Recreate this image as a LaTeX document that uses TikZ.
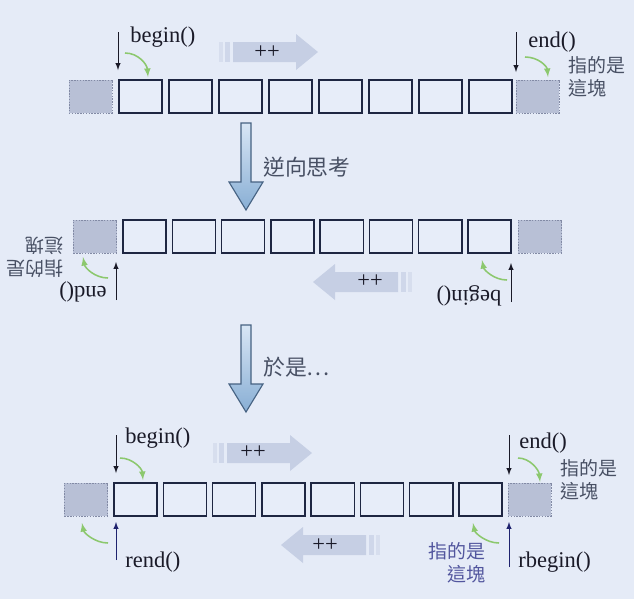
\documentclass[tikz,border=0pt]{standalone}
\usepackage{fontspec}
\setmainfont{Liberation Serif}
\newfontfamily\cjk{Noto Sans CJK TC}
\usetikzlibrary{calc}

\definecolor{bgblue}{RGB}{229,235,247}
\definecolor{cellfill}{RGB}{231,237,249}
\definecolor{boxline}{RGB}{30,38,66}
\definecolor{sentfill}{RGB}{184,192,214}
\definecolor{dotline}{RGB}{130,138,165}
\definecolor{fatfill}{RGB}{198,207,228}
\definecolor{downtop}{RGB}{216,230,245}
\definecolor{downbot}{RGB}{136,174,212}
\definecolor{downedge}{RGB}{70,98,130}
\definecolor{hintgreen}{RGB}{140,200,110}
\definecolor{navy}{RGB}{30,34,110}
\definecolor{ink}{RGB}{26,26,40}
\definecolor{notegrey}{RGB}{72,80,100}
\definecolor{noteblue}{RGB}{82,86,158}

\tikzset{
  cell/.style={draw=boxline, fill=cellfill, line width=1pt,
    minimum width=1.075cm, minimum height=0.825cm, inner sep=0pt},
  sentinel/.style={cell, draw=dotline, densely dotted, fill=sentfill, line width=0.6pt},
  ptr/.style={-latex, line width=0.7pt, draw=ink},
  rptr/.style={ptr, draw=navy},
  hint/.style={-latex, line width=1.1pt, draw=hintgreen},
  lbl/.style={font=\fontsize{16}{19}\selectfont, text=ink, inner sep=0pt},
  note/.style={font=\cjk\fontsize{13.5}{16.5}\selectfont, text=notegrey, inner sep=0pt},
  fat arrow/.pic={
    \fill[fatfill!45!bgblue] (0,-10) rectangle (4,10);
    \fill[fatfill!70!bgblue] (6,-10) rectangle (11,10);
    \fill[fatfill] (14,-10) -- (77,-10) -- (77,-18) -- (99,0) -- (77,18)
      -- (77,10) -- (14,10) -- cycle;
  },
  down arrow/.pic={
    \draw[draw=downedge, line width=0.8pt, top color=downtop, bottom color=downbot]
      (-5,0) -- (-5,59) -- (-17,59) -- (0,87) -- (17,59) -- (5,59) -- (5,0) -- cycle;
  }
}

\begin{document}
\begin{tikzpicture}[x=0.025cm, y=-0.025cm]
  \fill[bgblue] (0,0) rectangle (634,599);
  \useasboundingbox (0,0) rectangle (634,599);

  % first row
  \draw
    (90.5,96.5) node[sentinel] (t0){}
    (140.5,96.5) node[cell] (t1){}
    (190.5,96.5) node[cell] (t2){}
    (240.5,96.5) node[cell] (t3){}
    (290.5,96.5) node[cell] (t4){}
    (340.5,96.5) node[cell] (t5){}
    (390.5,96.5) node[cell] (t6){}
    (440.5,96.5) node[cell] (t7){}
    (490.5,96.5) node[cell] (t8){}
    (537.5,96.5) node[sentinel] (t9){};
  \coordinate (tb1) at (118,32);
  \coordinate (tb2) at (118,70);
  \coordinate (te1) at (516,32);
  \coordinate (te2) at (516,72);
  \coordinate (tg1) at (125,53);
  \coordinate (tg2) at (148,77);
  \coordinate (th1) at (525,57);
  \coordinate (th2) at (548,77);
  \node[lbl, anchor=base west] (tbegin) at (130,42) {begin()};
  \node[lbl, anchor=base west] (tend) at (528,47) {end()};
  \node[note, anchor=north west, align=left] (tnote) at (568,56) {指的是\\這塊};
  \draw[ptr] (tb1) -- (tb2);
  \draw[ptr] (te1) -- (te2);
  \draw[hint] (tg1) .. controls (138,53) and (147,64) .. (tg2);
  \draw[hint] (th1) .. controls (538,57) and (547,66) .. (th2);
  \pic at (219,52) {fat arrow};
  \node[lbl] (tinc) at (267,52) {++};

  % think backwards
  \pic at (246,123) {down arrow};
  \node[note, font=\cjk\fontsize{15.5}{18}\selectfont, anchor=west] (flip) at (263,167) {逆向思考};

  % second row
  \draw
    (95,236.5) node[sentinel] (m0){}
    (144.5,236.5) node[cell] (m1){}
    (193.8,236.5) node[cell] (m2){}
    (243.1,236.5) node[cell] (m3){}
    (292.4,236.5) node[cell] (m4){}
    (341.7,236.5) node[cell] (m5){}
    (391.0,236.5) node[cell] (m6){}
    (440.3,236.5) node[cell] (m7){}
    (489.6,236.5) node[cell] (m8){}
    (540,236.5) node[sentinel] (m9){};
  \coordinate (me1) at (116,300);
  \coordinate (me2) at (116,262);
  \coordinate (mb1) at (511,302);
  \coordinate (mb2) at (511,263);
  \coordinate (mg1) at (108,278);
  \coordinate (mg2) at (83,257);
  \coordinate (mh1) at (507,280);
  \coordinate (mh2) at (482,260);
  \node[lbl, rotate=180] (mend) at (83,292) {end()};
  \node[lbl, rotate=180] (mbegin) at (469,296) {begin()};
  \node[note, rotate=180, align=left] (mnote) at (35,257) {指的是\\這塊};
  \draw[ptr] (me1) -- (me2);
  \draw[ptr] (mb1) -- (mb2);
  \draw[hint] (mg1) .. controls (95,278) and (85,268) .. (mg2);
  \draw[hint] (mh1) .. controls (494,280) and (484,270) .. (mh2);
  \pic[rotate=180] at (412,282) {fat arrow};
  \node[lbl] (minc) at (370,281) {++};

  % so...
  \pic at (246,325) {down arrow};
  \node[note, font=\cjk\fontsize{15.5}{18}\selectfont, anchor=west] (hence) at (263,367) {於是…};

  % third row
  \draw
    (86,499.5) node[sentinel] (b0){}
    (135.5,499.5) node[cell] (b1){}
    (184.8,499.5) node[cell] (b2){}
    (234.1,499.5) node[cell] (b3){}
    (283.4,499.5) node[cell] (b4){}
    (332.7,499.5) node[cell] (b5){}
    (382.0,499.5) node[cell] (b6){}
    (431.3,499.5) node[cell] (b7){}
    (480.6,499.5) node[cell] (b8){}
    (529.5,499.5) node[sentinel] (b9){};
  \coordinate (bb1) at (116,435);
  \coordinate (bb2) at (116,473);
  \coordinate (br1) at (116,560);
  \coordinate (br2) at (116,522);
  \coordinate (be1) at (509,435);
  \coordinate (be2) at (509,475);
  \coordinate (brb1) at (509,567);
  \coordinate (brb2) at (509,522);
  \node[lbl, anchor=base west] (bbegin) at (125,443) {begin()};
  \node[lbl, anchor=base west] (brend) at (125,567) {rend()};
  \node[lbl, anchor=base west] (bend) at (519,448) {end()};
  \node[lbl, anchor=base west] (brbegin) at (518,567) {rbegin()};
  \node[note, anchor=north west, align=left] (bnote) at (560,459) {指的是\\這塊};
  \node[note, text=noteblue, anchor=north east, align=right] (rnote) at (486,542) {指的是\\這塊};
  \draw[ptr] (bb1) -- (bb2);
  \draw[rptr] (br1) -- (br2);
  \draw[ptr] (be1) -- (be2);
  \draw[rptr] (brb1) -- (brb2);
  \draw[hint] (120,458) .. controls (132,458) and (142,468) .. (143,480);
  \draw[hint] (108,543) .. controls (95,543) and (84,533) .. (82,523);
  \draw[hint] (518,458) .. controls (530,458) and (539,470) .. (540,482);
  \draw[hint] (499,543) .. controls (486,543) and (475,533) .. (473,523);
  \pic at (213,453) {fat arrow};
  \node[lbl] (binc) at (253,452) {++};
  \pic[rotate=180] at (380,545) {fat arrow};
  \node[lbl] (rinc) at (325,545) {++};
\end{tikzpicture}
\end{document}
